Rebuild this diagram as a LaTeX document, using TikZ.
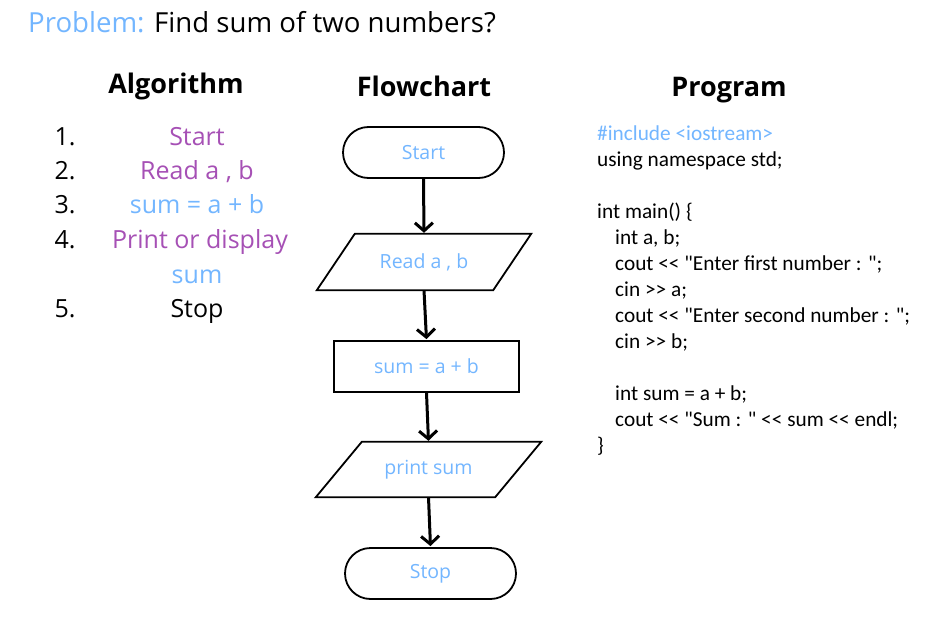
\documentclass[tikz,border=0pt]{standalone}
\usepackage{fontspec}
\setmainfont{Open Sans}
\newfontfamily\codefont{Carlito}
\usetikzlibrary{arrows.meta}
\definecolor{lblue}{HTML}{73B6FF}
\definecolor{purp}{HTML}{A650B5}
\begin{document}
\begin{tikzpicture}[x=1pt,y=-1pt,
  heading/.style={anchor=base,font=\fontsize{27}{32}\selectfont\bfseries},
  algnum/.style={anchor=base west,font=\fontsize{25}{30}\selectfont},
  algitem/.style={anchor=base,font=\fontsize{25}{30}\selectfont},
  code/.style={anchor=base west,font=\codefont\fontsize{21.3}{26}\selectfont,inner sep=0pt},
  term/.style={draw,line width=1.8pt,rounded corners=25.5pt,inner sep=0pt,text=lblue,font=\fontsize{19.5}{23}\selectfont},
  procbox/.style={draw,line width=1.8pt,inner sep=0pt,text=lblue,font=\fontsize{19.5}{23}\selectfont},
  iobox/.style={inner sep=0pt,text=lblue,font=\fontsize{19.5}{23}\selectfont},
  flow/.style={line width=3pt,-{Straight Barb[length=8pt,width=18pt,line width=3pt]},shorten >=1pt}
]
\useasboundingbox[fill=white] (0,0) rectangle (931,631);

% title
\node[anchor=base west,inner sep=0pt,font=\fontsize{27.6}{32}\selectfont] (title) at (28,33)
  {\textcolor{lblue}{Problem:} Find sum of two numbers?};

% headings
\node[heading] (halg) at (176,94) {Algorithm};
\node[heading] (hflow) at (424,97) {Flowchart};
\node[heading] (hprog) at (729,97) {Program};

% algorithm
\node[algnum] (n1) at (51,146) {1.};
\node[algnum] (n2) at (51,180) {2.};
\node[algnum] (n3) at (51,214) {3.};
\node[algnum] (n4) at (51,248) {4.};
\node[algnum] (n5) at (51,317) {5.};
\node[algitem,text=purp] (a1) at (197,146) {Start};
\node[algitem,text=purp] (a2) at (197,180) {Read a , b};
\node[algitem,text=lblue] (a3) at (197,214) {sum = a + b};
\node[algitem,text=purp] (a4) at (200,248) {Print or display};
\node[algitem,text=lblue] (a4b) at (197,283) {sum};
\node[algitem] (a5) at (197,317) {Stop};

% flowchart
\node[term,minimum width=161pt,minimum height=51pt] (fstart) at (423.5,152.5) {Start};
\node[iobox,minimum width=176pt,minimum height=56pt] (fread) at (424,262) {Read a , b};
\draw[line width=1.8pt] ([xshift=19pt]fread.north west) -- ([xshift=19pt]fread.north east)
  -- ([xshift=-19pt]fread.south east) -- ([xshift=-19pt]fread.south west) -- cycle;
\node[procbox,minimum width=185pt,minimum height=51pt] (fsum) at (426.5,366.5) {sum = a + b};
\node[iobox,minimum width=179pt,minimum height=55pt] (fprint) at (428.5,469.5) {print sum};
\draw[line width=1.8pt] ([xshift=23pt]fprint.north west) -- ([xshift=23pt]fprint.north east)
  -- ([xshift=-23pt]fprint.south east) -- ([xshift=-23pt]fprint.south west) -- cycle;
\node[term,minimum width=171pt,minimum height=51pt] (fstop) at (430.5,573.5) {Stop};

\draw[flow] (fstart.south) -- (fread.north);
\draw[flow] (fread.south) -- (fsum.north);
\draw[flow] (fsum.south) -- (fprint.north);
\draw[flow] (fprint.south) -- (fstop.north);

% program
\node[code,text=lblue] (c1) at (597,140.7) {\#include <iostream>};
\node[code] (c2) at (597,166.7) {using namespace std;};
\node[code] (c3) at (597,218.7) {int main() \{};
\node[code] (c4) at (615,244.7) {int a, b;};
\node[code] (c5) at (615,270.7) {cout << "Enter first number : ";};
\node[code] (c6) at (615,296.7) {cin >> a;};
\node[code] (c7) at (615,322.7) {cout << "Enter second number : ";};
\node[code] (c8) at (615,348.7) {cin >> b;};
\node[code] (c9) at (615,400.7) {int sum = a + b;};
\node[code] (c10) at (615,426.7) {cout << "Sum : " << sum << endl;};
\node[code] (c11) at (597,452.7) {\}};
\end{tikzpicture}
\end{document}
